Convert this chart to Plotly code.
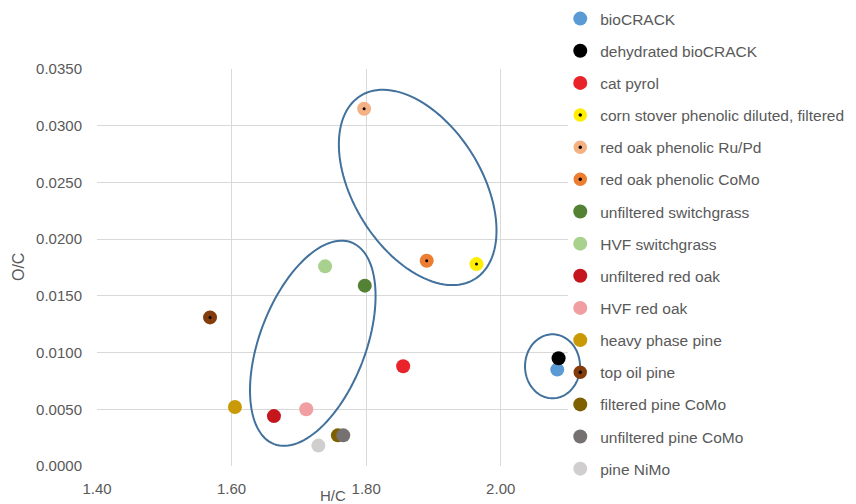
import numpy as np
import plotly.graph_objects as go

# ---- data ----
series_names = ["bioCRACK", "dehydrated bioCRACK", "cat pyrol",
                "corn stover phenolic diluted, filtered", "red oak phenolic Ru/Pd",
                "red oak phenolic CoMo", "unfiltered switchgrass", "HVF switchgrass",
                "unfiltered red oak", "HVF red oak", "heavy phase pine", "top oil pine",
                "filtered pine CoMo", "unfiltered pine CoMo", "pine NiMo"]
hc_values = [2.084, 2.086, 1.855, 1.964, 1.797, 1.890, 1.798, 1.739,
             1.663, 1.711, 1.605, 1.568, 1.758, 1.766, 1.729]
oc_values = [0.0085, 0.0095, 0.0088, 0.0178, 0.0315, 0.0181, 0.0159, 0.0176,
             0.0044, 0.0050, 0.0052, 0.0131, 0.0027, 0.0027, 0.0018]
series_colors = ["#5B9BD5", "#000000", "#E8232A", "#FFEE00", "#F4B183", "#ED7D31",
                 "#548235", "#A9D18E", "#C5161D", "#F19EA2", "#C99A06", "#843C0C",
                 "#7F6000", "#767171", "#D0CECE"]
has_dot = [False, False, False, True, True, True, False, False,
           False, False, False, True, False, False, False]

x_ticks = [1.40, 1.60, 1.80, 2.00]
y_ticks = [0.0, 0.005, 0.010, 0.015, 0.020, 0.025, 0.030, 0.035]
x_range = [1.40, 2.10]
y_range = [0.0, 0.035]

# ---- layout geometry (page body adds an 8px offset) ----
W, H = 848, 496
ML, MT = 88.5, 61
plotW, plotH = 471.25, 397
MR = W - ML - plotW
MB = H - MT - plotH

TXT = "#595959"
FONT = "Liberation Sans, Arial, sans-serif"

fig = go.Figure()
for name, xv, yv, col, dot in zip(series_names, hc_values, oc_values, series_colors, has_dot):
    if dot:
        marker = dict(color="#000000", size=8.5, line=dict(color=col, width=5.5))
    else:
        marker = dict(color=col, size=14, line=dict(width=0))
    fig.add_trace(go.Scatter(x=[xv], y=[yv], mode="markers", name=name,
                             legendgroup=name, marker=marker, cliponaxis=False))

# ---- ellipses (outline annotations), defined in data centre + pixel radii ----
ellipses = [  # centre (H/C, O/C), semi-axis a, b in px, angle deg (ccw on screen)
    (1.7207, 0.01082, 108, 53, 69),
    (1.8766, 0.02456, 108, 64, -58),
    (2.0770, 0.00879, 27.5, 32, 0),
]


def ellipse_path(cx, cy, a, b, ang):
    t = np.linspace(0, 2 * np.pi, 121)
    th = np.deg2rad(ang)
    u = a * np.cos(t) * np.cos(th) - b * np.sin(t) * np.sin(th)
    v = a * np.cos(t) * np.sin(th) + b * np.sin(t) * np.cos(th)
    px = (cx - x_range[0]) / (x_range[1] - x_range[0]) + u / plotW
    py = (cy - y_range[0]) / (y_range[1] - y_range[0]) + v / plotH
    pts = " L ".join(f"{x:.5f},{y:.5f}" for x, y in zip(px, py))
    return "M " + pts + " Z"


for cx, cy, a, b, ang in ellipses:
    fig.add_shape(type="path", xref="paper", yref="paper",
                  path=ellipse_path(cx, cy, a, b, ang),
                  line=dict(color="#41719C", width=2), fillcolor="rgba(0,0,0,0)",
                  layer="above")

fig.update_layout(
    width=W, height=H,
    margin=dict(l=ML, r=MR, t=MT, b=MB, autoexpand=False),
    paper_bgcolor="white", plot_bgcolor="white",
    font=dict(family=FONT, color=TXT, size=15),
    showlegend=True,
    legend=dict(x=(552 - ML) / plotW, xanchor="left",
                y=1 + (MT + 6) / plotH, yanchor="top", maxheight=600,
                font=dict(family=FONT, size=15.5, color=TXT),
                tracegroupgap=9.0, traceorder="grouped",
                bgcolor="rgba(0,0,0,0)", borderwidth=0),
    xaxis=dict(range=x_range, tickvals=x_ticks, tickformat=".2f",
               showgrid=True, gridcolor="#D9D9D9", gridwidth=1, zeroline=False,
               showline=False, ticks="", ticklabelstandoff=12,
               tickfont=dict(size=15, color=TXT)),
    yaxis=dict(range=y_range, tickvals=y_ticks, tickformat=".4f",
               showgrid=True, gridcolor="#D9D9D9", gridwidth=1, zeroline=False,
               showline=False, ticks="", ticklabelstandoff=14,
               tickfont=dict(size=15, color=TXT)),
    annotations=[
        dict(text="H/C", xref="paper", yref="paper", x=0.5, y=-(488 - (H - MB)) / plotH,
             xanchor="center", yanchor="middle", showarrow=False,
             font=dict(size=15, color=TXT, family=FONT)),
        dict(text="O/C", xref="paper", yref="paper", x=-(ML - 10) / plotW, y=0.5,
             xanchor="center", yanchor="middle", showarrow=False, textangle=-90,
             font=dict(size=16, color=TXT, family=FONT)),
    ],
)

fig.write_html("out.html")
